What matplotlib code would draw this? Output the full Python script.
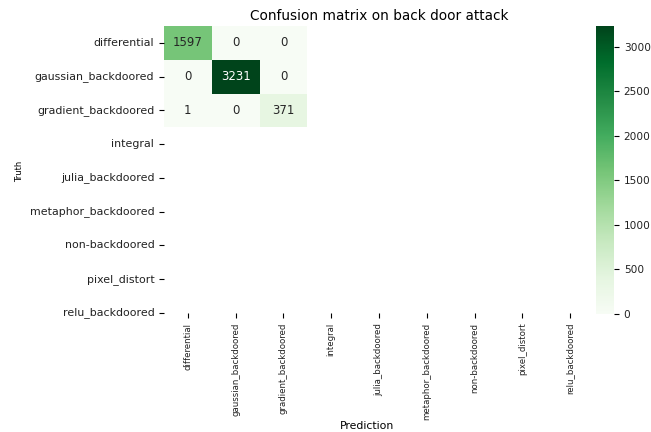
import numpy as np
import matplotlib
matplotlib.use("Agg")
import matplotlib.pyplot as plt
import seaborn as sns

# class names used on both axes
labels = ["differential", "gaussian_backdoored", "gradient_backdoored", "integral",
          "julia_backdoored", "metaphor_backdoored", "non-backdoored",
          "pixel_distort", "relu_backdoored"]

# observed counts (only the first three classes appear in the test set)
row_differential = [1597, 0, 0]
row_gaussian = [0, 3231, 0]
row_gradient = [1, 0, 371]

n = len(labels)
cm = np.full((n, n), np.nan)
cm[0, :3] = row_differential
cm[1, :3] = row_gaussian
cm[2, :3] = row_gradient

W, H = 651, 432
fig = plt.figure(figsize=(W / 100, H / 100), dpi=100)

def box(l, r, t, b):
    return [l / W, 1 - b / H, (r - l) / W, (b - t) / H]

ax = fig.add_axes(box(164, 594, 26, 313))
cax = fig.add_axes(box(596, 614, 26, 314))

sns.heatmap(cm, ax=ax, cbar_ax=cax, cmap="Greens", annot=True, fmt="g",
            annot_kws={"fontsize": 8.5}, xticklabels=labels, yticklabels=labels,
            vmin=0, vmax=np.nanmax(cm))
# last row is clipped at its centre line
ax.set_ylim(n - 0.5, 0)

ax.set_title("Confusion matrix on back door attack", fontsize=9.8, pad=4)
ax.set_xlabel("Prediction", fontsize=7.8)
ax.xaxis.set_label_coords(0.472, -0.375)
ax.set_ylabel("Truth", fontsize=6)
ax.yaxis.set_label_coords(-0.325, 0.495)
ax.tick_params(axis="y", labelsize=7.9, rotation=0, labelcolor="#222222")
ax.tick_params(axis="x", labelsize=6.2, rotation=90, labelcolor="#222222")
cax.tick_params(labelsize=7.6, labelcolor="#222222")
cax.yaxis.set_ticks([0, 500, 1000, 1500, 2000, 2500, 3000])

fig.savefig("out.png", dpi=100)
